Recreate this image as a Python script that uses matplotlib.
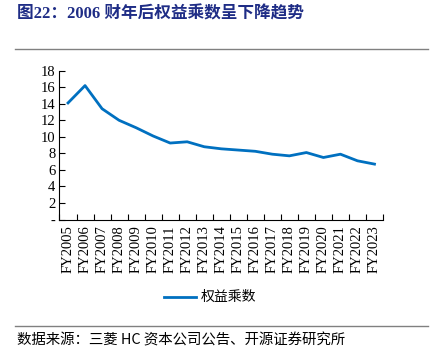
import matplotlib
matplotlib.use('Agg')
from matplotlib import pyplot as plt
from matplotlib.lines import Line2D
import numpy as np

YEARS = ['FY2005','FY2006','FY2007','FY2008','FY2009','FY2010','FY2011','FY2012',
         'FY2013','FY2014','FY2015','FY2016','FY2017','FY2018','FY2019','FY2020',
         'FY2021','FY2022','FY2023']
EQUITY_MULT = [14.1,16.2,13.4,12.0,11.1,10.1,9.25,9.4,8.8,8.55,8.4,8.25,7.9,7.7,8.1,7.5,7.9,7.1,6.7]
YTICKS = [0,2,4,6,8,10,12,14,16,18]
YTICK_LABELS = ['-','2','4','6','8','10','12','14','16','18']

SERIF = ['Liberation Serif','Noto Sans CJK SC','DejaVu Sans']
CJK = ['Noto Sans CJK SC','Liberation Serif','DejaVu Sans']
plt.rcParams['font.family'] = SERIF

fig = plt.figure(figsize=(4.39,3.5),dpi=100)
ax = fig.add_axes([59.5/439, 130.5/350, (383-59.5)/439, (279.3-130.5)/350])

x = np.arange(len(YEARS))
ax.plot(x,EQUITY_MULT,color='#0070C0',lw=2.0,solid_joinstyle='round')

ax.set_xlim(-0.5,len(YEARS)-0.5)
ax.set_ylim(0,18)
ax.set_yticks(YTICKS)
ax.set_yticklabels(YTICK_LABELS,fontsize=10.5)
ax.set_xticks(x)
ax.set_xticklabels(YEARS,rotation=90,fontsize=10.5)
ax.set_xticks(np.arange(len(YEARS)+1)-0.5,minor=True)
ax.tick_params(axis='x',which='major',length=0,pad=4)
ax.tick_params(axis='x',which='minor',direction='in',length=4,width=0.8)
ax.tick_params(axis='y',direction='in',length=4,width=0.8,pad=3)
for s in ['top','right']:
    ax.spines[s].set_visible(False)
for s in ['left','bottom']:
    ax.spines[s].set_linewidth(0.8)
    ax.spines[s].set_color('black')

# title and rules
fig.text(17/439,1-14/350,'图22：2006 财年后权益乘数呈下降趋势',color='#1F2D86',
         fontsize=12,fontweight='bold',va='center',ha='left',family=SERIF)
fig.add_artist(Line2D([15/439,428/439],[1-49/350,1-49/350],color='#808080',lw=1.0))
fig.add_artist(Line2D([15/439,428/439],[1-326/350,1-326/350],color='#808080',lw=1.0))

# legend
fig.add_artist(Line2D([164/439,196/439],[1-297/350,1-297/350],color='#0070C0',lw=2.0))
fig.text(201/439,1-297/350,'权益乘数',fontsize=10,va='center',ha='left',family=CJK)

fig.text(17/439,1-340/350,'数据来源：三菱 HC 资本公司公告、开源证券研究所',fontsize=10.4,
         va='center',ha='left',family=CJK)

plt.savefig('out.png',dpi=100)
